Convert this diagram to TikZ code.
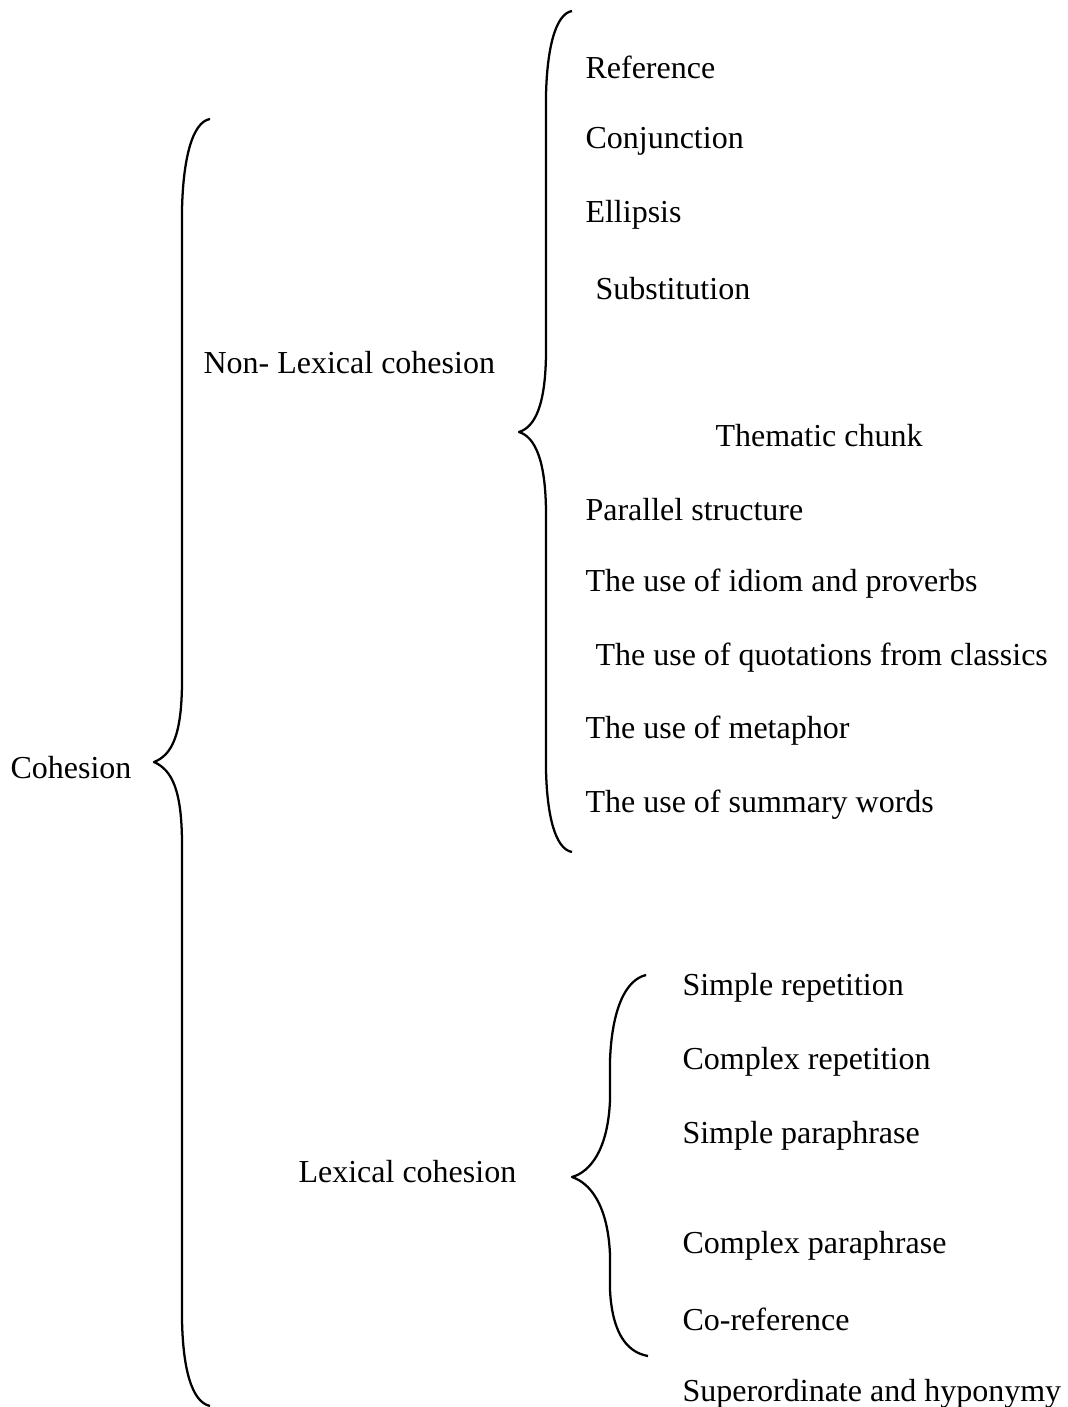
\documentclass[tikz,border=0pt]{standalone}
\usepackage{fontspec}
\setmainfont{Liberation Serif}
\usetikzlibrary{positioning}

\begin{document}
\begin{tikzpicture}[
        x=0.375pt, y=-0.375pt,
        term/.style={anchor=west, inner sep=0pt, yshift=-1pt, font=\fontsize{12}{14}\selectfont},
        brace/.style={line width=0.85pt, line join=round}
    ]
        \useasboundingbox (0,0) rectangle (1068,1407);

        % Root and the two branches
        \node[term] (cohesion) at (10, 765) {Cohesion};
        \node[term] (nonlex) at (203, 360) {Non- Lexical cohesion};
        \node[term] (lex) at (298, 1169) {Lexical cohesion};

        % Non-lexical items
        \foreach \name/\x/\y/\txt in {
            ref/585/65/Reference,
            conj/585/139/Conjunction,
            ell/585/212/Ellipsis,
            subst/595/286/Substitution,
            theme/715/433/Thematic chunk,
            para/585/507/Parallel structure,
            idiom/585/581/The use of idiom and proverbs,
            quot/595/655/The use of quotations from classics,
            meta/585/728/The use of metaphor,
            summ/585/802/The use of summary words} {
            \node[term] (\name) at (\x, \y) {\txt};
        }

        % Lexical items
        \foreach \name/\y/\txt in {
            srep/985/Simple repetition,
            crep/1059/Complex repetition,
            spar/1133/Simple paraphrase,
            cpar/1243/Complex paraphrase,
            coref/1317/Co-reference,
            super/1391/Superordinate and hyponymy} {
            \node[term] (\name) at (682, \y) {\txt};
        }

        % Big brace
        \draw[brace] (210,119) .. controls (192,122) and (183,160) .. (182,210)
            -- (182,680) .. controls (182,735) and (172,755) .. (154,762)
            .. controls (172,770) and (182,790) .. (182,845)
            -- (182,1320) .. controls (183,1370) and (192,1402) .. (210,1406);

        % Non-lexical brace
        \draw[brace] (572,11) .. controls (555,14) and (547,50) .. (546,95)
            -- (546,350) .. controls (546,405) and (535,427) .. (519,432)
            .. controls (535,437) and (546,460) .. (546,515)
            -- (546,770) .. controls (547,815) and (555,849) .. (572,852);

        % Lexical brace
        \draw[brace] (646,975) .. controls (625,980) and (612,1010) .. (610,1060)
            -- (610,1100) .. controls (608,1150) and (590,1172) .. (572,1177)
            .. controls (590,1183) and (608,1205) .. (610,1255)
            -- (610,1290) .. controls (612,1330) and (625,1352) .. (648,1356);
    \end{tikzpicture}
\end{document}
